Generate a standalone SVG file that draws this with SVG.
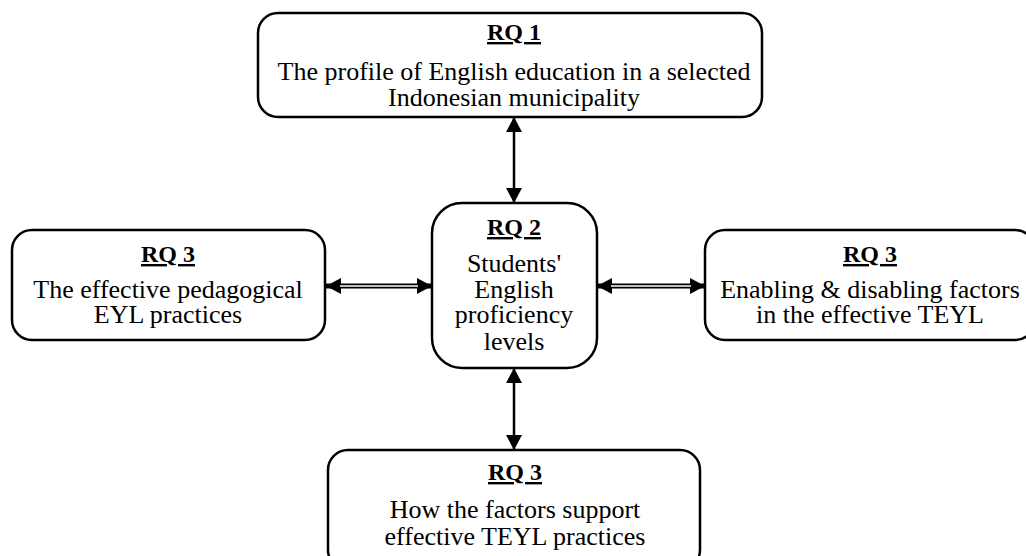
<svg xmlns="http://www.w3.org/2000/svg" width="1026" height="556" viewBox="0 0 1026 556">
<defs>
<style>
.box{fill:#fff;stroke:#000;stroke-width:2.5}
.t{font-family:"Liberation Serif","Times New Roman",serif;font-size:26px;fill:#000;text-anchor:middle}
.h{font-weight:bold;font-size:24px;text-decoration:underline}
.v{stroke:#000;stroke-width:2.5;fill:none}
.dbl{stroke:#000;stroke-width:5;fill:none}
.gap{stroke:#fff;stroke-width:1.5;fill:none}
</style>
<marker id="ah" markerUnits="userSpaceOnUse" markerWidth="16" markerHeight="18" refX="15" refY="8" orient="auto-start-reverse" viewBox="0 0 16 16">
<path d="M0,0 L15,8 L0,16 z" fill="#000"/>
</marker>
</defs>
<rect width="1026" height="556" fill="#fff"/>
<g id="connectors">
<line class="v" x1="514" y1="117" x2="514" y2="203" marker-start="url(#ah)" marker-end="url(#ah)"/>
<line class="v" x1="514" y1="368" x2="514" y2="450" marker-start="url(#ah)" marker-end="url(#ah)"/>
<line class="dbl" x1="326" y1="286" x2="432" y2="286" marker-start="url(#ah)" marker-end="url(#ah)"/>
<line class="gap" x1="340" y1="286" x2="418" y2="286"/>
<line class="dbl" x1="597" y1="286" x2="705" y2="286" marker-start="url(#ah)" marker-end="url(#ah)"/>
<line class="gap" x1="611" y1="286" x2="691" y2="286"/>
</g>
<g id="rq1">
<rect class="box" x="258" y="13" width="504" height="104" rx="20"/>
<text class="t h" x="514" y="40">RQ 1</text>
<text class="t" x="514" y="80">The profile of English education in a selected</text>
<text class="t" x="514" y="106">Indonesian municipality</text>
</g>
<g id="rq2">
<rect class="box" x="432" y="203" width="165" height="165" rx="30"/>
<text class="t h" x="514" y="235">RQ 2</text>
<text class="t" x="514" y="272">Students'</text>
<text class="t" x="514" y="298">English</text>
<text class="t" x="514" y="323">proficiency</text>
<text class="t" x="514" y="350">levels</text>
</g>
<g id="rq3-left">
<rect class="box" x="12" y="230" width="313" height="110" rx="20"/>
<text class="t h" x="168" y="262">RQ 3</text>
<text class="t" x="168" y="298">The effective pedagogical</text>
<text class="t" x="168" y="323">EYL practices</text>
</g>
<g id="rq3-right">
<rect class="box" x="705" y="230" width="330" height="110" rx="20"/>
<text class="t h" x="870" y="262">RQ 3</text>
<text class="t" x="870" y="298">Enabling &amp; disabling factors</text>
<text class="t" x="870" y="323">in the effective TEYL</text>
</g>
<g id="rq3-bottom">
<rect class="box" x="328" y="450" width="372" height="120" rx="20"/>
<text class="t h" x="515" y="480">RQ 3</text>
<text class="t" x="515" y="518">How the factors support</text>
<text class="t" x="515" y="545">effective TEYL practices</text>
</g>
</svg>
